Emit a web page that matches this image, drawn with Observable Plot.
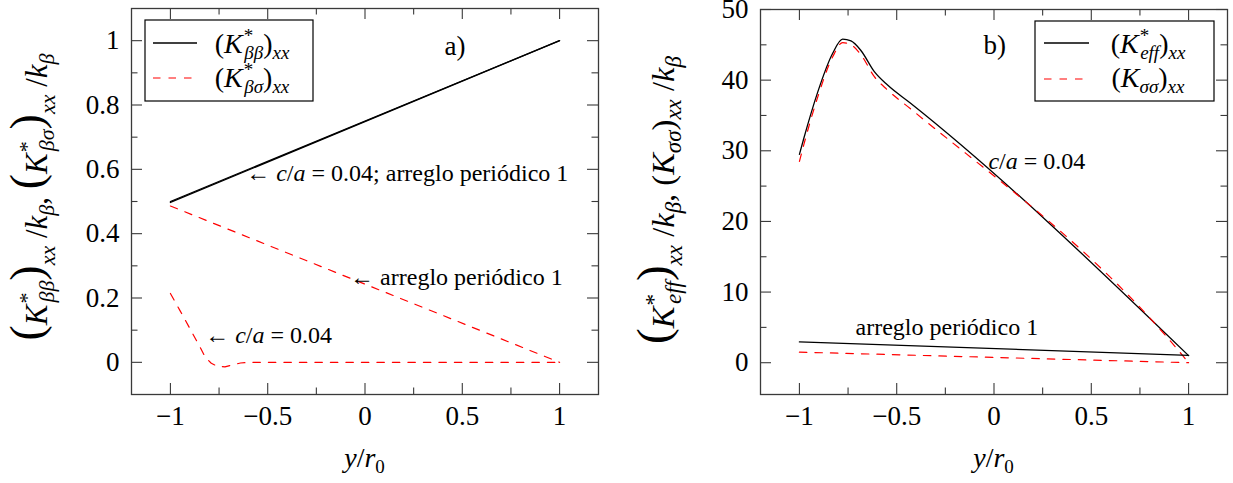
<!DOCTYPE html>
<html><head><meta charset="utf-8">
<script src="https://cdn.jsdelivr.net/npm/d3@7"></script>
<script src="https://cdn.jsdelivr.net/npm/@observablehq/plot@0.6"></script>
<style>
body{margin:0;background:#fff;}
#wrap{display:flex;width:1233px;height:483px;overflow:hidden;}
#wrap svg, #wrap svg text, #wrap svg tspan {font-family:'Liberation Serif', serif !important;}
</style></head><body><div id="wrap"></div>
<script>
// ---------- Panel a data ----------
const xA_bb = [-1, 1];
const yA_bb_ca = [0.5, 1.0];
const yA_bb_p1 = [0.497, 1.0];
const xA_bs_p1 = [-1, 1];
const yA_bs_p1 = [0.486, 0.0];
const xA_bs_ca = [-1, -0.95, -0.9, -0.85, -0.82, -0.79, -0.76, -0.72, -0.68, -0.64, -0.6, 1];
const yA_bs_ca = [0.214, 0.16, 0.105, 0.05, 0.015, -0.003, -0.012, -0.014, -0.008, -0.002, 0, 0];
const xTicksMaj = [-1, -0.5, 0, 0.5, 1];
const xTicksMin = [-0.75, -0.25, 0.25, 0.75];
const yA_major = [0, 0.2, 0.4, 0.6, 0.8, 1];
const yA_minor = [0.1, 0.3, 0.5, 0.7, 0.9];

// ---------- Panel b data ----------
const xB_eff_ca = [-1, -0.978, -0.906, -0.829, -0.778, -0.735, -0.684, -0.615, -0.547, -0.427, 1];
const yB_eff_ca = [29.5, 31.7, 38.3, 43.8, 45.8, 45.55, 44.2, 41.2, 39.3, 36.7, 1.0];
const xB_ss_ca = [-1, -0.978, -0.906, -0.829, -0.778, -0.735, -0.684, -0.615, -0.547, -0.427, 0.97, 1];
const yB_ss_ca = [28.5, 30.8, 37.6, 43.3, 45.3, 45.0, 43.6, 40.5, 38.6, 35.9, 1.0, 0.0];
const xB_p1 = [-1, 1];
const yB_eff_p1 = [2.95, 1.05];
const yB_ss_p1 = [1.5, 0.0];
const yB_major = [0, 10, 20, 30, 40, 50];
const yB_minor = [5, 15, 25, 35, 45];

const SERIF = "'Liberation Serif', serif";
const FRAME = "#3a3a3a";
const H = 483, MB = 89;
const fmt = d => d < 0 ? "\u2212" + String(-d) : String(d);
const rows = (xs, ys) => xs.map((x, i) => ({x, y: ys[i]}));

function tickMarks(xMaj, xMin, yMaj, yMin, iw, ih) {
  const st = {stroke: FRAME, strokeWidth: 1.1};
  const L = 11, l = 6.5;
  return [
    Plot.ruleX(xMaj, {...st, insetTop: ih - L}),
    Plot.ruleX(xMaj, {...st, insetBottom: ih - L}),
    Plot.ruleX(xMin, {...st, insetTop: ih - l}),
    Plot.ruleX(xMin, {...st, insetBottom: ih - l}),
    Plot.ruleY(yMaj, {...st, insetRight: iw - L}),
    Plot.ruleY(yMaj, {...st, insetLeft: iw - L}),
    Plot.ruleY(yMin, {...st, insetRight: iw - l}),
    Plot.ruleY(yMin, {...st, insetLeft: iw - l})
  ];
}

function rich(parent, x, y, parts, {size = 23, anchor = "start", rotate = 0} = {}) {
  const t = parent.append("text")
    .attr("font-family", SERIF).attr("font-size", size).attr("fill", "black")
    .attr("text-anchor", anchor)
    .attr("transform", `translate(${x},${y})` + (rotate ? ` rotate(${rotate})` : ""));
  let cur = 0;
  for (const p of parts) {
    const sp = t.append("tspan").text(p.t);
    const target = p.shift || 0;
    if (target !== cur) { sp.attr("dy", target - cur); cur = target; }
    if (p.dx) sp.attr("dx", p.dx);
    if (p.size) sp.attr("font-size", p.size);
    if (p.it) sp.attr("font-style", "italic");
  }
  return t;
}

const black = {stroke: "black", strokeWidth: 1.3};
const red = {stroke: "#ff0000", strokeWidth: 1.2, strokeDasharray: "7.5,8"};

// ---------- Panel a ----------
const wA = 616, mlA = 131, mrA = 18, mtA = 8;
const figA = Plot.plot({
  width: wA, height: H, marginLeft: mlA, marginRight: mrA, marginTop: mtA, marginBottom: MB,
  style: {fontFamily: SERIF, fontSize: "27px", color: "black", background: "white", overflow: "visible"},
  x: {domain: [-1.2, 1.2]},
  y: {domain: [-0.1, 1.1]},
  marks: [
    Plot.line(rows(xA_bb, yA_bb_ca), {x: "x", y: "y", ...black}),
    Plot.line(rows(xA_bb, yA_bb_p1), {x: "x", y: "y", ...black}),
    Plot.line(rows(xA_bs_p1, yA_bs_p1), {x: "x", y: "y", ...red}),
    Plot.line(rows(xA_bs_ca, yA_bs_ca), {x: "x", y: "y", ...red}),
    ...tickMarks(xTicksMaj, xTicksMin, yA_major, yA_minor, wA - mlA - mrA, H - mtA - MB),
    Plot.frame({stroke: FRAME, strokeWidth: 1.3}),
    Plot.axisX(xTicksMaj, {tickSize: 0, tickPadding: 11, fontSize: 27, tickFormat: fmt, label: null}),
    Plot.axisY(yA_major, {tickSize: 0, tickPadding: 12, fontSize: 27, tickFormat: fmt, label: null})
  ]
});

// ---------- Panel b ----------
const wB = 617, mlB = 144, mrB = 6, mtB = 9;
const figB = Plot.plot({
  width: wB, height: H, marginLeft: mlB, marginRight: mrB, marginTop: mtB, marginBottom: MB,
  style: {fontFamily: SERIF, fontSize: "27px", color: "black", background: "white", overflow: "visible"},
  x: {domain: [-1.2, 1.2]},
  y: {domain: [-4.5, 50]},
  marks: [
    Plot.line(rows(xB_eff_ca, yB_eff_ca), {x: "x", y: "y", curve: "monotone-x", ...black}),
    Plot.line(rows(xB_ss_ca, yB_ss_ca), {x: "x", y: "y", curve: "monotone-x", ...red}),
    Plot.line(rows(xB_p1, yB_eff_p1), {x: "x", y: "y", ...black}),
    Plot.line(rows(xB_p1, yB_ss_p1), {x: "x", y: "y", ...red}),
    ...tickMarks(xTicksMaj, xTicksMin, yB_major, yB_minor, wB - mlB - mrB, H - mtB - MB),
    Plot.frame({stroke: FRAME, strokeWidth: 1.3}),
    Plot.axisX(xTicksMaj, {tickSize: 0, tickPadding: 11, fontSize: 27, tickFormat: fmt, label: null}),
    Plot.axisY(yB_major, {tickSize: 0, tickPadding: 12, fontSize: 27, tickFormat: fmt, label: null})
  ]
});

const wrap = document.getElementById("wrap");
wrap.appendChild(figA);
wrap.appendChild(figB);

// ---------- Annotations panel a ----------
{
  const svg = d3.select(figA), sx = figA.scale("x"), sy = figA.scale("y");
  const g = svg.append("g");
  const ann = (x, y, parts, opt) => rich(g, sx.apply(x), sy.apply(y) + 7.5, parts, opt);
  ann(0.465, 0.978, [{t: "a)"}], {size: 27, anchor: "middle"});
  ann(-0.608, 0.587, [{t: "\u2190 "}, {t: "c", it: 1}, {t: "/"}, {t: "a", it: 1}, {t: " = 0.04; arreglo periódico 1"}], {size: 24});
  ann(-0.074, 0.262, [{t: "\u2190 arreglo periódico 1"}], {size: 24});
  ann(-0.819, 0.082, [{t: "\u2190 "}, {t: "c", it: 1}, {t: "/"}, {t: "a", it: 1}, {t: " = 0.04"}], {size: 24});

  const lg = svg.append("g");
  lg.append("rect").attr("x", 145).attr("y", 20).attr("width", 168).attr("height", 81)
    .attr("fill", "white").attr("stroke", "black").attr("stroke-width", 1.2);
  lg.append("line").attr("x1", 153).attr("x2", 197).attr("y1", 43).attr("y2", 43).attr("stroke", "black").attr("stroke-width", 1.3);
  lg.append("line").attr("x1", 153).attr("x2", 197).attr("y1", 78).attr("y2", 78).attr("stroke", "#ff0000").attr("stroke-width", 1.2).attr("stroke-dasharray", "7.5,8");
  rich(lg, 252, 53, [{t: "("}, {t: "K", it: 1}, {t: "*", size: 19, shift: -11, dx: 1}, {t: "ββ", it: 1, size: 19, shift: 6, dx: -9}, {t: ")"}, {t: "xx", it: 1, size: 19, shift: 6}], {size: 28, anchor: "middle"});
  rich(lg, 252, 87, [{t: "("}, {t: "K", it: 1}, {t: "*", size: 19, shift: -11, dx: 1}, {t: "βσ", it: 1, size: 19, shift: 6, dx: -9}, {t: ")"}, {t: "xx", it: 1, size: 19, shift: 6}], {size: 28, anchor: "middle"});

  const cx = sx.apply(0);
  rich(svg, cx, 467, [{t: "y", it: 1}, {t: "/"}, {t: "r", it: 1}, {t: "0", size: 19, shift: 6}], {size: 28, anchor: "middle"});
  const big = 46;
  rich(svg, 47, 197, [
    {t: "(", size: big, shift: -5}, {t: "K", it: 1}, {t: "*", size: 22, shift: -13, dx: 1}, {t: "ββ", it: 1, size: 22, shift: 7, dx: -10},
    {t: ")", size: big, shift: -5}, {t: "xx", it: 1, size: 22, shift: 8}, {t: " /"}, {t: "k", it: 1}, {t: "β", it: 1, size: 22, shift: 7},
    {t: ", "}, {t: "(", size: big, shift: -5}, {t: "K", it: 1}, {t: "*", size: 22, shift: -13, dx: 1}, {t: "βσ", it: 1, size: 22, shift: 7, dx: -10},
    {t: ")", size: big, shift: -5}, {t: "xx", it: 1, size: 22, shift: 8}, {t: " /"}, {t: "k", it: 1}, {t: "β", it: 1, size: 22, shift: 7}
  ], {size: 31, anchor: "middle", rotate: -90});
}

// ---------- Annotations panel b ----------
{
  const svg = d3.select(figB), sx = figB.scale("x"), sy = figB.scale("y");
  const g = svg.append("g");
  const ann = (x, y, parts, opt) => rich(g, sx.apply(x), sy.apply(y) + 7.5, parts, opt);
  ann(0.007, 44.65, [{t: "b)"}], {size: 27, anchor: "middle"});
  ann(-0.026, 28.4, [{t: "c", it: 1}, {t: "/"}, {t: "a", it: 1}, {t: " = 0.04"}], {size: 24});
  ann(-0.709, 4.86, [{t: "arreglo periódico 1"}], {size: 24});

  const ox = 616;
  const lg = svg.append("g");
  lg.append("rect").attr("x", 1035 - ox).attr("y", 21).attr("width", 179).attr("height", 80)
    .attr("fill", "white").attr("stroke", "black").attr("stroke-width", 1.2);
  lg.append("line").attr("x1", 1044 - ox).attr("x2", 1089 - ox).attr("y1", 43).attr("y2", 43).attr("stroke", "black").attr("stroke-width", 1.3);
  lg.append("line").attr("x1", 1044 - ox).attr("x2", 1089 - ox).attr("y1", 79).attr("y2", 79).attr("stroke", "#ff0000").attr("stroke-width", 1.2).attr("stroke-dasharray", "7.5,8");
  rich(lg, 1148 - ox, 53, [{t: "("}, {t: "K", it: 1}, {t: "*", size: 19, shift: -11, dx: 1}, {t: "eff", it: 1, size: 19, shift: 6, dx: -9}, {t: ")"}, {t: "xx", it: 1, size: 19, shift: 6}], {size: 28, anchor: "middle"});
  rich(lg, 1148 - ox, 87, [{t: "("}, {t: "K", it: 1}, {t: "σσ", it: 1, size: 19, shift: 6}, {t: ")"}, {t: "xx", it: 1, size: 19, shift: 6}], {size: 28, anchor: "middle"});

  const cx = sx.apply(0);
  rich(svg, cx, 467, [{t: "y", it: 1}, {t: "/"}, {t: "r", it: 1}, {t: "0", size: 19, shift: 6}], {size: 28, anchor: "middle"});
  const big = 47;
  rich(svg, 58, 200, [
    {t: "(", size: big, shift: -5}, {t: "K", it: 1}, {t: "*", size: 23, shift: -13, dx: 1}, {t: "eff", it: 1, size: 23, shift: 7, dx: -10},
    {t: ")", size: big, shift: -5}, {t: "xx", it: 1, size: 23, shift: 8}, {t: " /"}, {t: "k", it: 1}, {t: "β", it: 1, size: 23, shift: 7},
    {t: ", "}, {t: "("}, {t: "K", it: 1}, {t: "σσ", it: 1, size: 23, shift: 7},
    {t: ")"}, {t: "xx", it: 1, size: 23, shift: 7}, {t: " /"}, {t: "k", it: 1}, {t: "β", it: 1, size: 23, shift: 7}
  ], {size: 32.5, anchor: "middle", rotate: -90});
}
</script>
</body></html>
